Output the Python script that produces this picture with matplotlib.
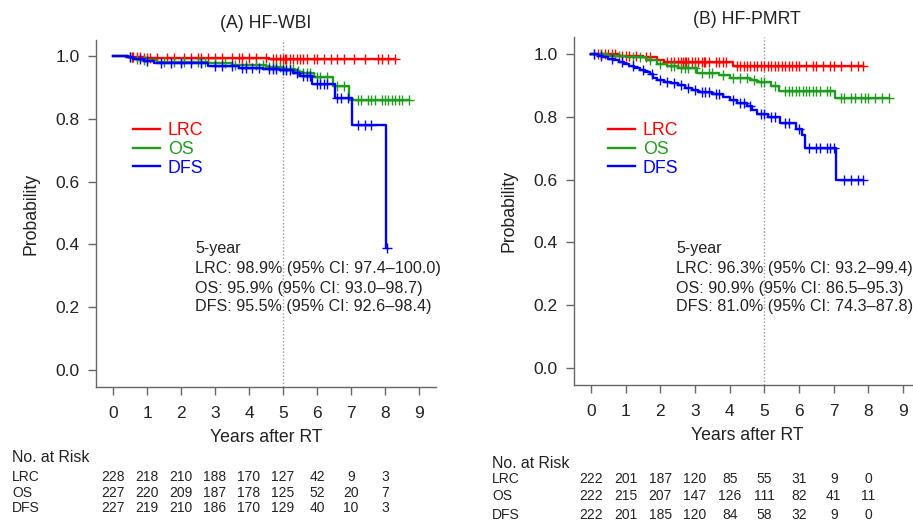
import numpy as np
import matplotlib
matplotlib.use("Agg")
import matplotlib.pyplot as plt
from matplotlib import transforms

plt.rcParams['font.family'] = ['Liberation Sans', 'DejaVu Sans']

# ---------------- data ----------------
titles = ["(A) HF-WBI", "(B) HF-PMRT"]
series_names = ["LRC", "OS", "DFS"]
colors = ["#FF0000", "#1F9B1F", "#0000FF"]

# Panel A
a_lrc_t = [0.45, 0.9, 4.6]
a_lrc_s = [0.996, 0.993, 0.989]
a_lrc_c = [0.55, 0.6, 0.7, 0.8, 0.9, 1.0, 1.1, 1.3, 1.6, 1.8, 2.1, 2.3, 2.5, 2.6, 2.8, 3.0,
           3.2, 3.5, 3.7, 3.8, 4.0, 4.2, 4.5, 4.7, 4.8, 4.9, 5.0, 5.05, 5.1, 5.2, 5.3, 5.4,
           5.5, 5.6, 5.7, 5.9, 6.0, 6.2, 6.4, 6.6, 6.8, 7.1, 7.4, 7.8, 7.9, 8.1, 8.3]
a_os_t = [0.45, 0.6, 0.8, 1.3, 2.8, 3.5, 4.5, 4.96, 5.35, 5.5, 5.9, 6.48, 6.95]
a_os_s = [0.996, 0.991, 0.987, 0.982, 0.977, 0.972, 0.966, 0.959, 0.952, 0.945, 0.932, 0.903, 0.86]
a_os_c = [0.5, 0.7, 0.9, 1.0, 1.5, 1.8, 2.0, 2.1, 2.5, 2.6, 2.7, 3.0, 3.3, 3.6, 3.9, 4.2,
          4.4, 4.6, 4.7, 4.8, 4.9, 5.0, 5.1, 5.2, 5.3, 5.45, 5.6, 5.7, 5.8, 6.0, 6.1, 6.3,
          6.6, 6.8, 7.2, 7.3, 7.5, 7.6, 7.7, 7.9, 8.0, 8.1, 8.2, 8.3, 8.4, 8.5, 8.7]
a_dfs_t = [0.45, 0.6, 0.9, 1.2, 2.8, 3.7, 4.4, 4.9, 5.3, 5.5, 5.85, 6.53, 7.02, 8.03]
a_dfs_s = [0.996, 0.99, 0.985, 0.978, 0.968, 0.963, 0.96, 0.955, 0.945, 0.935, 0.91, 0.867, 0.78, 0.39]
a_dfs_c = [0.5, 0.8, 1.0, 1.4, 1.7, 2.0, 2.3, 2.6, 3.0, 3.2, 3.5, 3.8, 3.9, 4.1, 4.3, 4.6,
           4.7, 4.8, 5.0, 5.1, 5.2, 5.4, 5.6, 5.7, 5.8, 6.0, 6.1, 6.2, 6.3, 6.6, 6.7, 6.9,
           7.2, 7.4, 7.6, 8.05]

# Panel B
b_lrc_t = [0.8, 1.5, 1.9, 2.1, 4.1]
b_lrc_s = [0.995, 0.99, 0.982, 0.975, 0.963]
b_lrc_c = [0.2, 0.3, 0.4, 0.5, 0.6, 0.7, 0.9, 1.0, 1.1, 1.3, 1.6, 1.7, 2.2, 2.3, 2.4, 2.5,
           2.6, 2.65, 2.7, 2.75, 2.8, 2.9, 3.0, 3.1, 3.2, 3.25, 3.3, 3.4, 3.6, 3.7, 3.8, 3.9,
           4.2, 4.3, 4.4, 4.5, 4.6, 4.7, 4.8, 4.9, 5.0, 5.1, 5.2, 5.3, 5.4, 5.5, 5.6, 5.7,
           5.8, 5.9, 6.0, 6.2, 6.4, 6.5, 6.7, 6.9, 7.0, 7.2, 7.5, 7.7, 7.85]
b_os_t = [0.5, 1.0, 1.6, 1.9, 2.2, 2.5, 3.05, 3.7, 4.0, 4.6, 4.8, 5.2, 5.43, 7.04]
b_os_s = [0.995, 0.99, 0.98, 0.967, 0.962, 0.955, 0.94, 0.932, 0.925, 0.917, 0.91, 0.899, 0.882, 0.859]
b_os_c = [0.1, 0.3, 0.6, 0.8, 1.2, 1.4, 1.7, 2.0, 2.3, 2.4, 2.6, 2.7, 2.8, 3.0, 3.2, 3.4,
          3.5, 3.8, 4.1, 4.3, 4.5, 4.7, 4.9, 5.0, 5.3, 5.6, 5.7, 5.8, 5.9, 6.0, 6.1, 6.2,
          6.3, 6.4, 6.5, 6.6, 6.8, 6.9, 7.2, 7.3, 7.5, 7.6, 7.8, 7.9, 8.0, 8.2, 8.4, 8.6]
b_dfs_t = [0.2, 0.35, 0.5, 0.65, 0.8, 0.95, 1.1, 1.25, 1.4, 1.55, 1.7, 1.8, 1.9, 2.1, 2.3,
           2.5, 2.7, 2.9, 3.1, 3.5, 3.8, 4.0, 4.2, 4.5, 4.65, 4.8, 5.1, 5.45, 5.9, 6.08,
           6.17, 7.08]
b_dfs_s = [0.995, 0.99, 0.985, 0.98, 0.975, 0.968, 0.962, 0.955, 0.95, 0.944, 0.935, 0.925,
           0.917, 0.912, 0.906, 0.9, 0.893, 0.886, 0.88, 0.874, 0.862, 0.855, 0.843, 0.833,
           0.82, 0.81, 0.80, 0.78, 0.762, 0.742, 0.70, 0.60]
b_dfs_c = [0.1, 0.3, 0.6, 0.9, 1.2, 1.5, 1.75, 2.0, 2.2, 2.4, 2.6, 2.8, 3.0, 3.2, 3.3, 3.4,
           3.6, 3.7, 4.1, 4.3, 4.4, 4.6, 4.9, 5.0, 5.2, 5.3, 5.6, 5.7, 6.0, 6.3, 6.5, 6.6,
           6.8, 6.9, 7.0, 7.3, 7.5, 7.7, 7.85]

annot_a = ["5-year",
           "LRC: 98.9% (95% CI: 97.4\u2013100.0)",
           "OS: 95.9% (95% CI: 93.0\u201398.7)",
           "DFS: 95.5% (95% CI: 92.6\u201398.4)"]
annot_b = ["5-year",
           "LRC: 96.3% (95% CI: 93.2\u201399.4)",
           "OS: 90.9% (95% CI: 86.5\u201395.3)",
           "DFS: 81.0% (95% CI: 74.3\u201387.8)"]

risk_times = [0, 1, 2, 3, 4, 5, 6, 7, 8]
risk_a_lrc = [228, 218, 210, 188, 170, 127, 42, 9, 3]
risk_a_os = [227, 220, 209, 187, 178, 125, 52, 20, 7]
risk_a_dfs = [227, 219, 210, 186, 170, 129, 40, 10, 3]
risk_b_lrc = [222, 201, 187, 120, 85, 55, 31, 9, 0]
risk_b_os = [222, 215, 207, 147, 126, 111, 82, 41, 11]
risk_b_dfs = [222, 201, 185, 120, 84, 58, 32, 9, 0]

x_ticks = list(range(10))
y_ticks = [0.0, 0.2, 0.4, 0.6, 0.8, 1.0]

# ---------------- figure ----------------
W, H = 913, 522
fig = plt.figure(figsize=(W / 100, H / 100), dpi=100)

def fx(px):
    return px / W

def fy(py):
    return 1 - py / H

TXT = "#222222"
SPINE = "#666666"

panels = [
    dict(rect=[fx(96), fy(387), fx(340), 347 / H], xlim=(-0.5, 9.5), ylim=(-0.054, 1.051),
         curves=[(a_lrc_t, a_lrc_s, a_lrc_c), (a_os_t, a_os_s, a_os_c), (a_dfs_t, a_dfs_s, a_dfs_c)],
         annot=annot_a, annot_x=195, ylab_x=-0.165,
         risk=[risk_a_lrc, risk_a_os, risk_a_dfs], risk_head=(12, 458), risk_rows=[477, 493, 508],
         leg_anchor=(133, 122)),
    dict(rect=[fx(574), fy(385), fx(346.4), 348 / H], xlim=(-0.49, 9.5), ylim=(-0.054, 1.054),
         curves=[(b_lrc_t, b_lrc_s, b_lrc_c), (b_os_t, b_os_s, b_os_c), (b_dfs_t, b_dfs_s, b_dfs_c)],
         annot=annot_b, annot_x=676, ylab_x=-0.162,
         risk=[risk_b_lrc, risk_b_os, risk_b_dfs], risk_head=(492, 463), risk_rows=[479, 496, 515],
         leg_anchor=(608, 122)),
]

for i, p in enumerate(panels):
    ax = fig.add_axes(p["rect"])
    ax.set_xlim(*p["xlim"])
    ax.set_ylim(*p["ylim"])
    for s in ["top", "right"]:
        ax.spines[s].set_visible(False)
    for s in ["left", "bottom"]:
        ax.spines[s].set_color(SPINE)
        ax.spines[s].set_linewidth(1.0)
    ax.set_xticks(x_ticks)
    ax.set_yticks(y_ticks)
    ax.set_yticklabels([f"{v:.1f}" for v in y_ticks])
    ax.tick_params(axis="both", direction="out", length=5.8, width=1.0, color=SPINE,
                   labelsize=12.5, labelcolor=TXT, pad=6)
    ax.tick_params(axis="x", pad=8)
    ax.set_xlabel("Years after RT", fontsize=12.7, color=TXT, labelpad=6)
    ax.set_ylabel("Probability", fontsize=12.7, color=TXT)
    ax.yaxis.set_label_coords(p["ylab_x"], 0.5)
    ax.set_title(titles[i], fontsize=12.7, color=TXT, pad=9)

    ax.axvline(5, color="#999999", linestyle=(0, (1, 1.5)), linewidth=1.0, zorder=1)

    handles = []
    for (t, s, c), col, name in zip(p["curves"], colors, series_names):
        tt = np.concatenate([[0.0], t])
        ss = np.concatenate([[1.0], s])
        tend = max(max(c), max(t))
        tx = np.concatenate([tt, [tend]])
        sx = np.concatenate([ss, [ss[-1]]])
        h, = ax.step(tx, sx, where="post", color=col, linewidth=1.7, zorder=3, label=name)
        handles.append(h)
        ca = np.array(c)
        idx = np.searchsorted(tt, ca, side="right") - 1
        ax.plot(ca, ss[idx], linestyle="none", marker="+", markersize=6.5, markeredgewidth=1.0,
                color=col, zorder=3)

    lx, ly = p["leg_anchor"]
    leg = ax.legend(handles=handles, loc="upper left",
                    bbox_to_anchor=(fx(lx), fy(ly)), bbox_transform=fig.transFigure,
                    frameon=False, fontsize=12.8, handlelength=1.5, handletextpad=0.45,
                    labelspacing=0.1, borderpad=0, borderaxespad=0)
    for txt, col in zip(leg.get_texts(), colors):
        txt.set_color(col)

    for k, line in enumerate(p["annot"]):
        fig.text(fx(p["annot_x"]), fy([248, 268, 288, 307][k]), line, fontsize=11.6,
                 color=TXT, va="center", ha="left")

    # risk table
    hx, hy = p["risk_head"]
    fig.text(fx(hx), fy(hy), "No. at Risk", fontsize=11.4, color=TXT, va="center", ha="left")
    trans = transforms.blended_transform_factory(ax.transData, fig.transFigure)
    for row, name, ry in zip(p["risk"], series_names, p["risk_rows"]):
        fig.text(fx(hx), fy(ry), name, fontsize=10, color=TXT, va="center", ha="left")
        for tval, n in zip(risk_times, row):
            fig.text(tval, fy(ry), str(n), fontsize=10, color=TXT, va="center", ha="center",
                     transform=trans)

fig.savefig("out.png", dpi=100)
